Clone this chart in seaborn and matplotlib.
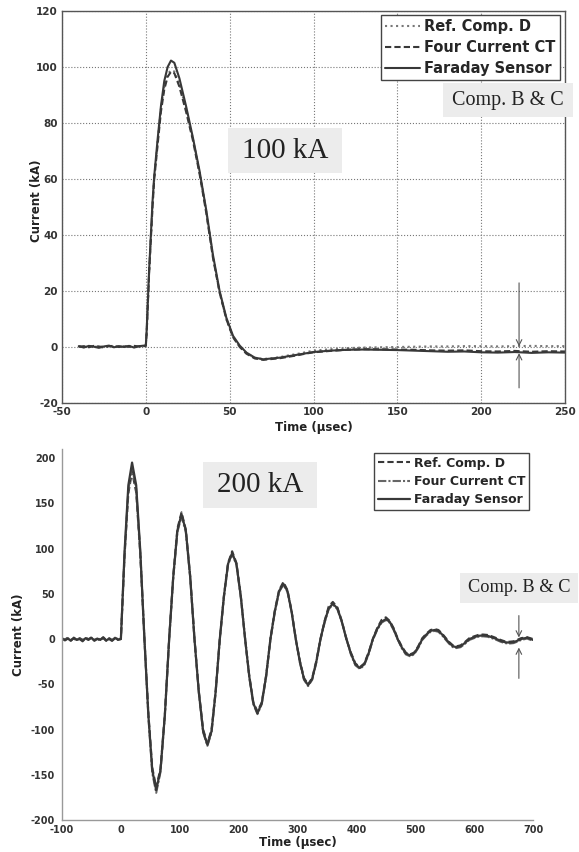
import matplotlib
matplotlib.use("Agg")
import matplotlib.pyplot as plt
from matplotlib.patches import Rectangle
import seaborn as sns

# ---------------- data: 100 kA test ----------------
t_top = [-40, -37, -34, -31, -28, -25, -22, -19, -16, -13, -10, -7, -4, -1, 0,
         0.5, 2, 4, 5, 7, 9, 11, 13, 15, 17,
         20, 24, 28, 32, 36, 40, 44, 48, 52, 56, 60,
         65, 70, 75, 80, 85, 90, 95, 100,
         110, 120, 130, 140, 150, 160, 170, 180, 190, 200, 210, 220, 230, 240, 250]

faraday_top = [0.3, -0.2, 0.4, 0.1, -0.3, 0.2, 0.5, -0.1, 0.3, 0.0, 0.4, -0.2, 0.3, 0.5, 0.6,
               6, 28, 52, 61, 74, 86, 95, 100, 102.3, 101.5,
               96, 86, 75, 63, 49, 33, 20, 10.5, 4, 0.5, -2,
               -3.8, -4.4, -4.1, -3.8, -3.3, -2.8, -2.3, -1.8,
               -1.3, -1.0, -0.9, -1.0, -1.1, -1.3, -1.5, -1.7, -1.6, -1.9, -2.0, -1.8, -2.1, -1.9, -2.0]

fct_top = [0.1, 0.3, -0.1, 0.4, 0.2, -0.2, 0.3, 0.4, 0.0, 0.3, 0.1, 0.4, 0.2, 0.3, 0.5,
           5, 27, 50, 60, 72, 84, 92, 96.5, 98.3, 97.8,
           93, 84, 74, 62, 48, 32, 19.5, 10, 3.5, 0, -2.4,
           -4.1, -4.6, -4.3, -4.0, -3.5, -3.0, -2.4, -1.9,
           -1.4, -1.0, -0.8, -0.8, -0.9, -1.0, -1.2, -1.3, -1.2, -1.5, -1.6, -1.4, -1.7, -1.5, -1.6]

ref_top = [0.2, 0.0, 0.3, 0.2, 0.0, 0.3, 0.2, 0.1, 0.2, 0.3, 0.1, 0.2, 0.1, 0.3, 0.4,
           5, 27, 51, 60, 73, 85, 93, 97.5, 98.8, 98.4,
           94, 85, 74.5, 62.5, 48.5, 32.5, 19.5, 10, 3.5, 0.2, -2.2,
           -3.9, -4.3, -4.0, -3.6, -3.0, -2.5, -1.9, -1.3,
           -0.8, -0.4, -0.2, -0.1, 0.0, 0.1, 0.2, 0.2, 0.3, 0.3, 0.2, 0.3, 0.4, 0.3, 0.3]

# ---------------- data: 200 kA test ----------------
t_bot = [-100, -95, -90, -85, -80, -75, -70, -65, -60, -55,
         -50, -45, -40, -35, -30, -25, -20, -15, -10, -5,
         0, 6.3, 12.7, 19, 26, 33, 40,
         46.7, 53.3, 60, 67.3, 74.7, 82,
         89, 96, 103, 110.3, 117.7, 125,
         132.3, 139.7, 147, 154, 161, 168,
         175, 182, 189, 196.3, 203.7, 211,
         218, 225, 232, 239.3, 246.7, 254,
         261.3, 268.7, 276, 283, 290, 297,
         304, 311, 318, 325, 332, 339,
         346, 353, 360, 367.7, 375.3, 383,
         390.7, 398.3, 406, 413.3, 420.7, 428,
         435.3, 442.7, 450, 456.7, 463.3, 470,
         477, 484, 491, 498, 505, 512,
         519, 526, 533, 539.3, 545.7, 552,
         558, 564, 570, 577, 584, 592,
         600, 607, 615, 623, 630, 638,
         645, 652, 660, 667, 673, 680,
         690, 700]

faraday_bot = [1, -1.5, 0.5, -2, 1.5, -1, 0, -2.5, 1, -0.5,
               1.5, -2, 0.5, -1, 2, -1.5, 0, -2, 1, -0.5,
               0, 97, 170, 195, 170, 97, 0,
               -84, -145, -167, -145, -84, 0,
               69, 120, 138, 120, 69, 0,
               -58, -102, -117, -102, -58, 0,
               47, 83, 95, 83, 47, 0,
               -41, -71, -82, -71, -41, 0,
               30, 53, 61, 53, 30, 0,
               -25, -44, -51, -44, -25, 0,
               19, 34, 39, 34, 19, 0,
               -16, -28, -32, -28, -16, 0,
               11, 19, 22, 19, 11, 0,
               -9, -16, -18, -16, -9, 0,
               5, 9, 10, 9, 5, 0,
               -4.5, -8, -9, -8, -4.5, 0,
               2, 3.5, 4, 3.5, 2, 0,
               -2, -3.5, -4, -3.5, -2, 0,
               1.5, -1]

fct_bot = [0.5, -1, 1, -1.5, 1, -0.5, 0.5, -2, 1.5, 0,
           1, -1.5, 1, -0.5, 1.5, -1, 0.5, -1.5, 1.5, 0,
           0, 94, 165, 190, 166, 95, 1,
           -86, -148, -170, -147, -85, -1,
           68, 118, 136, 118, 68, 1,
           -59, -103, -118, -103, -59, -1,
           46, 82, 94, 82, 46, 1,
           -42, -72, -83, -72, -42, -1,
           29, 52, 60, 52, 30, 1,
           -26, -45, -52, -45, -26, -1,
           18, 33, 38, 33, 19, 1,
           -17, -29, -33, -29, -17, -1,
           10, 18, 21, 18, 10, 0,
           -10, -17, -19, -17, -10, -1,
           4, 8, 9, 8, 4, -1,
           -5.5, -9, -10, -9, -5.5, -1,
           1, 2.5, 3, 2.5, 1, -1,
           -3, -4.5, -5, -4.5, -3, -1,
           0.5, -2]

ref_bot = [0, -0.5, 1.5, -1, 0.5, -1.5, 1, -1, 0.5, -1,
           2, -1, 0, -1.5, 1, -2, 1, -1, 0.5, -1,
           0, 92, 161, 185, 162, 93, 0,
           -82, -142, -164, -143, -83, 0,
           70, 122, 140, 121, 70, 0,
           -57, -100, -115, -100, -57, 0,
           48, 84, 97, 84, 48, 0,
           -40, -70, -80, -70, -40, 0,
           31, 54, 63, 54, 31, 0,
           -24, -43, -50, -43, -24, 0,
           20, 36, 41, 35, 20, 0,
           -15, -27, -31, -27, -15, 0,
           12, 21, 24, 20, 12, 1,
           -8, -15, -17, -15, -8, 1,
           6, 10, 11, 10, 6, 1,
           -3.5, -7, -8, -7, -3.5, 1,
           3, 4.5, 5, 4.5, 3, 1,
           -1, -2.5, -3, -2.5, -1, 1,
           2, 0]

series_names = ["Ref. Comp. D", "Four Current CT", "Faraday Sensor"]
xticks_top = [-50, 0, 50, 100, 150, 200, 250]
yticks_top = [-20, 0, 20, 40, 60, 80, 100, 120]
xticks_bot = [-100, 0, 100, 200, 300, 400, 500, 600, 700]
yticks_bot = [-200, -150, -100, -50, 0, 50, 100, 150, 200]

# ---------------- style ----------------
sns.set_style("white")
plt.rcParams["font.family"] = ["DejaVu Sans"]
plt.rcParams["axes.unicode_minus"] = False

W, H = 579, 852
fig = plt.figure(figsize=(W / 100, H / 100), dpi=100)


def px_axes(x0, y0, x1, y1):
    return fig.add_axes([x0 / W, 1 - y1 / H, (x1 - x0) / W, (y1 - y0) / H])


ax1 = px_axes(62, 11, 565, 403)
ax2 = px_axes(62, 449, 533, 820)

dark = "#383838"
LW = 1.5

# top panel lines
sns.lineplot(x=t_top, y=ref_top, ax=ax1, color="#777777", linestyle=":", linewidth=LW,
             label=series_names[0], estimator=None, sort=False)
sns.lineplot(x=t_top, y=fct_top, ax=ax1, color=dark, linestyle=(0, (3, 1.5)), linewidth=LW,
             label=series_names[1], estimator=None, sort=False)
sns.lineplot(x=t_top, y=faraday_top, ax=ax1, color=dark, linestyle="-", linewidth=LW,
             label=series_names[2], estimator=None, sort=False)

# bottom panel lines
sns.lineplot(x=t_bot, y=ref_bot, ax=ax2, color=dark, linestyle=(0, (3, 1.5)), linewidth=LW,
             label=series_names[0], estimator=None, sort=False)
sns.lineplot(x=t_bot, y=fct_bot, ax=ax2, color="#666666", linestyle=(0, (4, 1, 1, 1)), linewidth=LW,
             label=series_names[1], estimator=None, sort=False)
sns.lineplot(x=t_bot, y=faraday_bot, ax=ax2, color=dark, linestyle="-", linewidth=1.6,
             label=series_names[2], estimator=None, sort=False)

# ---- top axes formatting ----
ax1.set_xlim(-50, 250)
ax1.set_ylim(-20, 120)
ax1.set_xticks(xticks_top)
ax1.set_yticks(yticks_top)
ax1.grid(True, linestyle=":", color="#777777", linewidth=0.8)
for s in ax1.spines.values():
    s.set_color("#555555")
    s.set_linewidth(1.0)
ax1.tick_params(direction="in", length=3, color="#555555", labelsize=7.5,
                labelcolor="#333333", pad=3)
for lab in ax1.get_xticklabels() + ax1.get_yticklabels():
    lab.set_fontweight("bold")
ax1.set_xlabel("Time (μsec)", fontsize=8.5, fontweight="bold", color="#222222", labelpad=3)
ax1.set_ylabel("Current (kA)", fontsize=8.5, fontweight="bold", color="#222222")
ax1.yaxis.set_label_coords(-0.038, 0.515)

# ---- bottom axes formatting ----
ax2.set_xlim(-100, 700)
ax2.set_ylim(-200, 210)
ax2.set_xticks(xticks_bot)
ax2.set_yticks(yticks_bot)
ax2.grid(False)
for side in ["top", "right"]:
    ax2.spines[side].set_visible(False)
for side in ["left", "bottom"]:
    ax2.spines[side].set_color("#999999")
    ax2.spines[side].set_linewidth(1.0)
ax2.tick_params(direction="in", length=3, color="#999999", labelsize=7,
                labelcolor="#333333")
ax2.tick_params(axis="x", pad=3.5)
ax2.tick_params(axis="y", pad=5)
for lab in ax2.get_xticklabels() + ax2.get_yticklabels():
    lab.set_fontweight("bold")
ax2.set_xlabel("Time (μsec)", fontsize=8.5, fontweight="bold", color="#222222", labelpad=1)
ax2.set_ylabel("Current (kA)", fontsize=8.5, fontweight="bold", color="#222222")
ax2.yaxis.set_label_coords(-0.079, 0.5)

# ---- legends ----
h1, l1 = ax1.get_legend_handles_labels()
ax1.legend(h1, l1, loc="upper right", bbox_to_anchor=(560 / W, 1 - 15 / H),
           bbox_transform=fig.transFigure, borderaxespad=0, fancybox=False,
           framealpha=1, edgecolor="#444444", prop={"weight": "bold", "size": 10.5},
           handlelength=2.4, handletextpad=0.3, labelspacing=0.4, borderpad=0.3)
ax1.get_legend().get_frame().set_linewidth(1.0)

h2, l2 = ax2.get_legend_handles_labels()
ax2.legend(h2, l2, loc="upper right", bbox_to_anchor=(529 / W, 1 - 453 / H),
           bbox_transform=fig.transFigure, borderaxespad=0, fancybox=False,
           framealpha=1, edgecolor="#444444", prop={"weight": "bold", "size": 9},
           handlelength=2.6, handletextpad=0.3, labelspacing=0.42, borderpad=0.3)
ax2.get_legend().get_frame().set_linewidth(1.0)


# ---- annotation boxes ----
def label_box(x0, y0, x1, y1, text, size):
    fig.patches.append(Rectangle((x0 / W, 1 - y1 / H), (x1 - x0) / W, (y1 - y0) / H,
                                 transform=fig.transFigure, facecolor="#ececec",
                                 edgecolor="none", zorder=5))
    fig.text((x0 + x1) / 2 / W, 1 - (y0 + y1) / 2 / H, text, ha="center", va="center",
             fontsize=size, family=["Liberation Serif", "DejaVu Serif"], color="#222222",
             zorder=6)


label_box(228, 128, 342, 173, "100 kA", 21)
label_box(443, 83, 573, 117, "Comp. B & C", 14.5)
label_box(203, 462, 317, 508, "200 kA", 21)
label_box(460, 573, 578, 603, "Comp. B & C", 13.2)

# ---- arrows ----
arrow_kw = dict(arrowstyle="->", color="#555555", lw=0.8, shrinkA=0, shrinkB=0)
ax1.annotate("", xy=(222.6, 0.2), xytext=(222.6, 22.9), arrowprops=arrow_kw, annotation_clip=False)
ax1.annotate("", xy=(222.6, -2.2), xytext=(222.6, -14.6), arrowprops=arrow_kw, annotation_clip=False)
ax2.annotate("", xy=(676, 1.7), xytext=(676, 25.9), arrowprops=arrow_kw, annotation_clip=False)
ax2.annotate("", xy=(676, -9.4), xytext=(676, -43.5), arrowprops=arrow_kw, annotation_clip=False)

fig.savefig("out.png", dpi=100)
